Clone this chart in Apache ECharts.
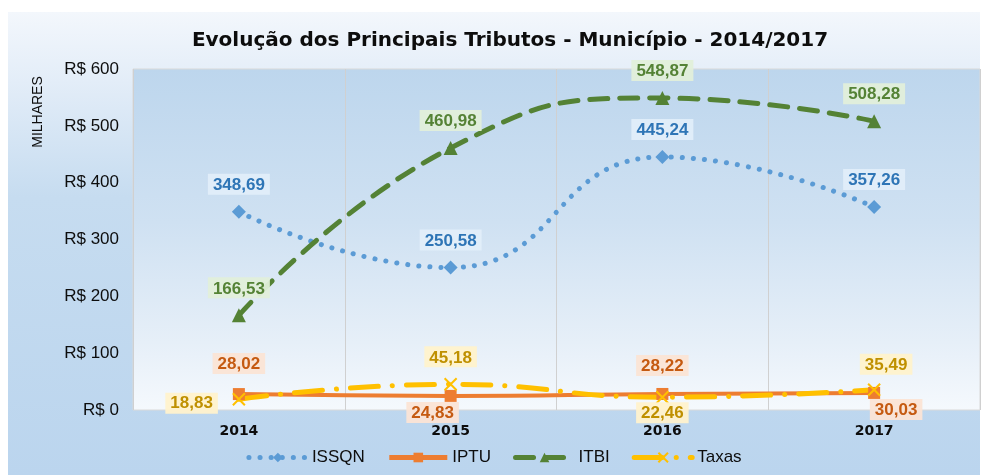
<!DOCTYPE html>
<html>
<head>
<meta charset="utf-8">
<script src="https://cdn.jsdelivr.net/npm/echarts@6/dist/echarts.min.js"></script>
<style>
    html, body { margin: 0; padding: 0; background: #fff; }
    #chart { width: 988px; height: 475px; }
</style>
</head>
<body>
<div id="chart"></div>
<script>
"use strict";
(() => {
    let chart = echarts.init(document.getElementById('chart'));

    // dados (milhares de R$)
    let anos = ['2014', '2015', '2016', '2017'];
    let issqn = [348.69, 250.58, 445.24, 357.26];
    let iptu = [28.02, 24.83, 28.22, 30.03];
    let itbi = [166.53, 460.98, 548.87, 508.28];
    let taxas = [18.83, 45.18, 22.46, 35.49];
    let yTicks = [0, 100, 200, 300, 400, 500, 600];

    // posição dos rótulos
    let iptuPos = ['top', 'bottom', 'top', 'bottom'];
    let iptuExtra = [{distance: 14}, {distance: 0, offset: [-18, 0]}, {distance: 12}, {distance: 0, offset: [22, 0]}];
    let taxasPos = ['left', 'top', 'bottom', 'top'];
    let taxasExtra = [{distance: 14, offset: [0, 4]}, {distance: 10}, {distance: -2}, {distance: 8, offset: [12, 0]}];

    let fmt = p => p.value.toFixed(2).replace('.', ',');

    let label = (color, bg) => ({
        show: true,
        position: 'top',
        formatter: fmt,
        color: color,
        fontFamily: 'Liberation Sans',
        fontWeight: 'bold',
        fontSize: 17,
        backgroundColor: bg,
        padding: [3, 5, 1, 5],
        distance: 10
    });

    let withPos = (vals, pos, extra) => vals.map((v, i) => ({
        value: v,
        label: Object.assign({position: pos[i]}, (extra && extra[i]) || {})
    }));

    let option = {
        backgroundColor: '#fff',
        textStyle: {fontFamily: 'Liberation Sans'},
        title: {
            text: 'Evolução dos Principais Tributos - Município - 2014/2017',
            left: 505,
            top: 26,
            textAlign: 'center',
            textStyle: {fontFamily: 'DejaVu Sans', fontSize: 20, fontWeight: 'bold', color: '#0d0d0d'}
        },
        graphic: [
            {
                type: 'rect', z: -10, silent: true,
                shape: {x: 8, y: 12, width: 972, height: 463},
                style: {
                    fill: new echarts.graphic.LinearGradient(0, 0, 0, 1, [
                        {offset: 0, color: '#f3f7fc'},
                        {offset: 0.15, color: '#e3edf8'},
                        {offset: 0.4, color: '#c6dcf0'},
                        {offset: 1, color: '#bbd5ee'}
                    ])
                }
            },
            {
                type: 'text', silent: true,
                x: 38, y: 112, rotation: Math.PI / 2,
                style: {
                    text: 'MILHARES', fill: '#0d0d0d',
                    font: '14px "Liberation Sans"',
                    align: 'center', verticalAlign: 'middle'
                }
            }
        ],
        legend: {
            bottom: 4,
            left: 'center',
            itemWidth: 58,
            itemHeight: 12,
            itemGap: 22,
            lineStyle: {width: 5},
            textStyle: {fontSize: 17, color: '#0d0d0d'},
            data: ['ISSQN', 'IPTU', 'ITBI', 'Taxas']
        },
        grid: {
            left: 133, right: 8, top: 69, bottom: 65,
            show: true,
            borderColor: '#d9d9d9',
            borderWidth: 1,
            backgroundColor: new echarts.graphic.LinearGradient(0, 0, 0, 1, [
                {offset: 0, color: '#bdd6ed'},
                {offset: 0.45, color: '#cfe1f2'},
                {offset: 0.8, color: '#e6eff8'},
                {offset: 1, color: '#f5f9fd'}
            ])
        },
        xAxis: {
            type: 'category',
            data: anos,
            boundaryGap: true,
            axisLine: {show: false},
            axisTick: {show: false},
            splitLine: {show: true, lineStyle: {color: '#d0d0d0', width: 1}},
            axisLabel: {fontSize: 14, fontWeight: 'bold', color: '#0d0d0d', margin: 14, fontFamily: 'DejaVu Sans'}
        },
        yAxis: {
            type: 'value',
            min: yTicks[0],
            max: yTicks[yTicks.length - 1],
            interval: 100,
            axisLine: {show: false},
            axisTick: {show: false},
            splitLine: {show: false},
            axisLabel: {fontSize: 17, color: '#0d0d0d', margin: 14, formatter: v => 'R$ ' + v}
        },
        series: [
            {
                name: 'ISSQN', type: 'line', smooth: true,
                data: issqn,
                symbol: 'diamond', symbolSize: 14,
                itemStyle: {color: '#5b9bd5'},
                lineStyle: {color: '#5b9bd5', width: 5, type: [0.1, 11], cap: 'round'},
                label: label('#2e75b6', 'rgba(226,238,249,0.9)')
            },
            {
                name: 'IPTU', type: 'line', smooth: true,
                data: withPos(iptu, iptuPos, iptuExtra),
                symbol: 'rect', symbolSize: 12,
                itemStyle: {color: '#ed7d31'},
                lineStyle: {color: '#ed7d31', width: 4},
                label: label('#c55a11', 'rgba(251,228,213,0.95)')
            },
            {
                name: 'ITBI', type: 'line', smooth: true,
                data: itbi,
                symbol: 'triangle', symbolSize: 14,
                itemStyle: {color: '#548235'},
                lineStyle: {color: '#548235', width: 5, type: [18, 12], cap: 'round'},
                label: label('#548235', 'rgba(226,239,218,0.95)')
            },
            {
                name: 'Taxas', type: 'line', smooth: true,
                data: withPos(taxas, taxasPos, taxasExtra),
                symbol: 'path://M0,0 L10,10 M10,0 L0,10', symbolSize: 12,
                itemStyle: {color: '#ffc000', borderColor: '#ffc000', borderWidth: 2},
                lineStyle: {color: '#ffc000', width: 5, type: [28, 14, 0.1, 14], cap: 'round'},
                label: label('#bf9000', 'rgba(255,242,204,0.95)')
            }
        ]
    };

    chart.setOption(option);
})();
</script>
</body>
</html>
